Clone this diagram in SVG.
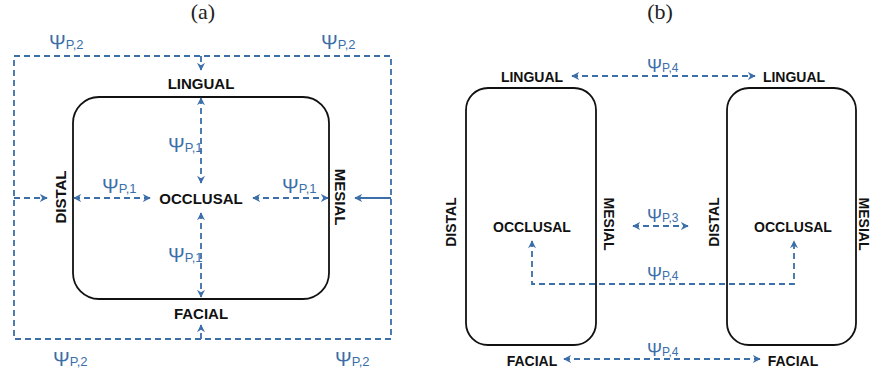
<svg xmlns="http://www.w3.org/2000/svg" width="873" height="377" viewBox="0 0 873 377">
<defs>
<marker id="ah" viewBox="0 0 10 10" refX="9" refY="5" markerWidth="8" markerHeight="8" markerUnits="userSpaceOnUse" orient="auto-start-reverse">
<path d="M0,0 L10,5 L0,10 L3,5 Z" fill="#3c6ea8"/>
</marker>
</defs>
<style>
.t{font-family:"Liberation Sans",Arial,sans-serif;font-weight:bold;fill:#111;text-anchor:middle}
.ta{font-size:15px}
.tb{font-size:14px}
.cap{font-family:"Liberation Serif","Times New Roman",serif;font-size:22px;fill:#222;text-anchor:middle}
.psi{font-family:"Liberation Sans",Arial,sans-serif;fill:#3c6ea8}
.box{fill:none;stroke:#111;stroke-width:1.8}
.d{fill:none;stroke:#3c6ea8;stroke-width:1.8;stroke-dasharray:6 4}
.s{fill:none;stroke:#3c6ea8;stroke-width:1.8}
.a{marker-end:url(#ah)}
.aa{marker-end:url(#ah);marker-start:url(#ah)}
</style>
<text class="cap" x="203" y="19">(a)</text>
<text class="cap" x="660" y="19">(b)</text>
<g id="occlusal-a-box"><rect class="box" x="73" y="97" width="256" height="202" rx="26"/></g>
<g id="box-b-left"><rect class="box" x="466" y="88" width="130" height="257" rx="22"/></g>
<g id="box-b-right"><rect class="box" x="727" y="88" width="129" height="257" rx="22"/></g>
<g id="connectors">
<rect class="d" x="14" y="56" width="377" height="283"/>
<path class="d a" d="M201,56 V70"/>
<path class="d a" d="M201,339 V325"/>
<path class="d a" d="M14,198 H47"/>
<path class="s a" d="M391,198 H355"/>
<path class="d aa" d="M201,98 V183"/>
<path class="d aa" d="M201,213 V297"/>
<path class="d aa" d="M74,198 H150"/>
<path class="d aa" d="M253,198 H328"/>
<path class="d aa" d="M572,76 H755"/>
<path class="d aa" d="M633,226 H688"/>
<path class="d aa" d="M564,359 H760"/>
<path class="d aa" d="M532,241 V284 H794 V241"/>
</g>
<g id="labels-psi">
<text class="psi" x="49" y="49"><tspan font-size="20">Ψ</tspan><tspan font-size="13">P,2</tspan></text>
<text class="psi" x="321" y="49"><tspan font-size="20">Ψ</tspan><tspan font-size="13">P,2</tspan></text>
<text class="psi" x="53" y="366"><tspan font-size="20">Ψ</tspan><tspan font-size="13">P,2</tspan></text>
<text class="psi" x="335" y="366"><tspan font-size="20">Ψ</tspan><tspan font-size="13">P,2</tspan></text>
<text class="psi" x="168" y="152"><tspan font-size="20">Ψ</tspan><tspan font-size="13">P,1</tspan></text>
<text class="psi" x="168" y="262"><tspan font-size="20">Ψ</tspan><tspan font-size="13">P,1</tspan></text>
<text class="psi" x="102" y="193"><tspan font-size="20">Ψ</tspan><tspan font-size="13">P,1</tspan></text>
<text class="psi" x="282" y="193"><tspan font-size="20">Ψ</tspan><tspan font-size="13">P,1</tspan></text>
<text class="psi" x="647" y="72"><tspan font-size="18">Ψ</tspan><tspan font-size="12">P,4</tspan></text>
<text class="psi" x="647" y="222"><tspan font-size="18">Ψ</tspan><tspan font-size="12">P,3</tspan></text>
<text class="psi" x="647" y="280"><tspan font-size="18">Ψ</tspan><tspan font-size="12">P,4</tspan></text>
<text class="psi" x="647" y="356"><tspan font-size="18">Ψ</tspan><tspan font-size="12">P,4</tspan></text>
</g>
<g id="node-a-lingual"><text class="t ta" x="201" y="89">LINGUAL</text></g>
<g id="node-a-occlusal"><text class="t ta" x="201" y="204">OCCLUSAL</text></g>
<g id="node-a-facial"><text class="t ta" x="201" y="319">FACIAL</text></g>
<g id="node-a-distal"><text class="t ta" transform="translate(61,197) rotate(-90)" x="0" y="5">DISTAL</text></g>
<g id="node-a-mesial"><text class="t ta" transform="translate(340,197) rotate(90)" x="0" y="5">MESIAL</text></g>
<g id="node-b-lingual-l"><text class="t tb" x="532" y="82">LINGUAL</text></g>
<g id="node-b-lingual-r"><text class="t tb" x="794" y="82">LINGUAL</text></g>
<g id="node-b-occlusal-l"><text class="t tb" x="532" y="232">OCCLUSAL</text></g>
<g id="node-b-occlusal-r"><text class="t tb" x="793" y="232">OCCLUSAL</text></g>
<g id="node-b-facial-l"><text class="t tb" x="532" y="366">FACIAL</text></g>
<g id="node-b-facial-r"><text class="t tb" x="793" y="366">FACIAL</text></g>
<g id="node-b-distal-l"><text class="t tb" transform="translate(451,222) rotate(-90)" x="0" y="5">DISTAL</text></g>
<g id="node-b-mesial-l"><text class="t tb" transform="translate(609,224) rotate(90)" x="0" y="5">MESIAL</text></g>
<g id="node-b-distal-r"><text class="t tb" transform="translate(714,222) rotate(-90)" x="0" y="5">DISTAL</text></g>
<g id="node-b-mesial-r"><text class="t tb" transform="translate(864,224) rotate(90)" x="0" y="5">MESIAL</text></g>
</svg>
